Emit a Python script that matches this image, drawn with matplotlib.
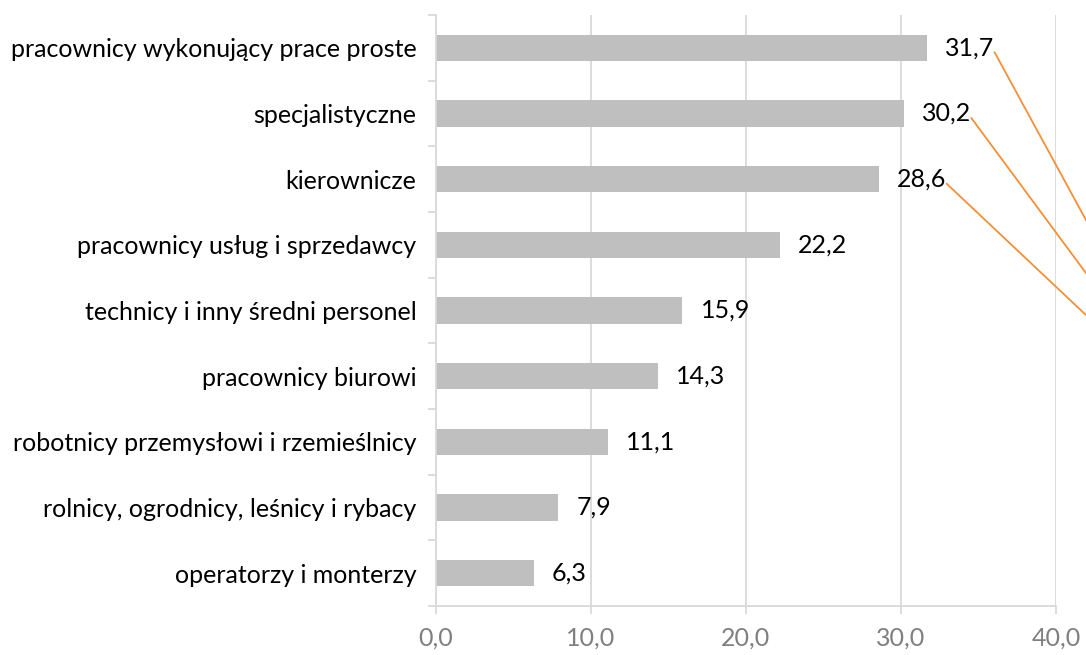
import matplotlib
matplotlib.use("Agg")
import matplotlib.pyplot as plt
from matplotlib.lines import Line2D

plt.rcParams['font.family'] = ['Lato', 'DejaVu Sans']

# data (top to bottom as in the chart)
categories = [
    "pracownicy wykonujący prace proste",
    "specjalistyczne",
    "kierownicze",
    "pracownicy usług i sprzedawcy",
    "technicy i inny średni personel",
    "pracownicy biurowi",
    "robotnicy przemysłowi i rzemieślnicy",
    "rolnicy, ogrodnicy, leśnicy i rybacy",
    "operatorzy i monterzy",
]
values = [31.7, 30.2, 28.6, 22.2, 15.9, 14.3, 11.1, 7.9, 6.3]
x_ticks = [0, 10, 20, 30, 40]
# end points (figure fraction y) of the orange leader lines for the first three labels
leader_targets = [0.664, 0.583, 0.519]

def fmt(v):
    return f"{v:.1f}".replace(".", ",")

fig = plt.figure(figsize=(10.86, 6.55), dpi=100)
ax = fig.add_axes([436 / 1086, 1 - 606 / 655, 620 / 1086, 591 / 655])

pos = list(range(len(categories)))
ax.barh(pos, values, height=0.4, color="#bfbfbf", zorder=2)
ax.set_ylim(len(categories) - 0.5, -0.5)
ax.set_xlim(0, 40)

ax.set_yticks(pos)
ax.set_yticklabels(categories, fontsize=18, color="#000000")
ax.set_yticks([p - 0.5 for p in pos] + [len(pos) - 0.5], minor=True)
ax.tick_params(axis="y", which="major", length=0, pad=14)
ax.tick_params(axis="y", which="minor", length=6, color="#d9d9d9", width=1.3)

ax.set_xticks(x_ticks)
ax.set_xticklabels([fmt(t) for t in x_ticks], fontsize=18, color="#7f7f7f")
ax.tick_params(axis="x", length=6, color="#d9d9d9", width=1.3, pad=9)
ax.grid(axis="x", color="#d9d9d9", linewidth=1.3, zorder=0)

for s in ["top", "right"]:
    ax.spines[s].set_visible(False)
for s in ["left", "bottom"]:
    ax.spines[s].set_color("#d9d9d9")
    ax.spines[s].set_linewidth(1.3)

labels = []
for p, v in zip(pos, values):
    t = ax.annotate(fmt(v), (v, p), xytext=(13, 0), textcoords="offset points",
                    va="center", ha="left", fontsize=18, color="#000000")
    labels.append(t)

fig.canvas.draw()
renderer = fig.canvas.get_renderer()
W, H = fig.bbox.width, fig.bbox.height
for t, yt in zip(labels[:3], leader_targets):
    bb = t.get_window_extent(renderer)
    x0 = bb.x1 / W
    y0 = (bb.y0 + 0.3 * bb.height) / H
    fig.add_artist(Line2D([x0, 1.0], [y0, yt], color="#f0913a", linewidth=1.3))

fig.savefig("out.png", dpi=100)
